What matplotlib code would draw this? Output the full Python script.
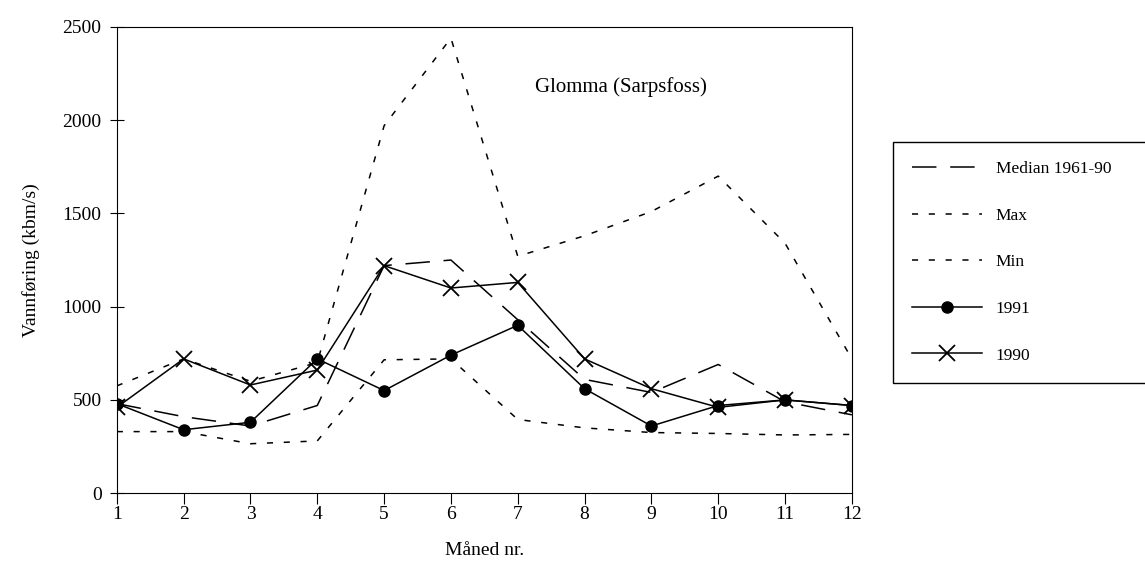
import matplotlib.pyplot as plt

months = list(range(1, 13))

median = [480, 410, 360, 470, 1220, 1250, 930, 610, 540, 690, 490, 420]
max_flow = [575, 720, 600, 700, 1970, 2440, 1270, 1380, 1510, 1700, 1340, 720]
min_flow = [330, 330, 265, 280, 715, 720, 395, 350, 325, 320, 312, 315]
y1991 = [480, 340, 380, 720, 550, 740, 900, 560, 360, 470, 500, 470]
y1990 = [460, 720, 580, 660, 1220, 1100, 1130, 720, 560, 460, 500, 470]

plt.rcParams['font.family'] = ['Liberation Serif', 'DejaVu Serif']

fig = plt.figure(figsize=(11.45, 5.85), dpi=100)
ax = fig.add_axes([0.102, 0.157, 0.642, 0.797])

ax.plot(months, median, color='black', lw=1.1, dashes=(16, 9), label='Median 1961-90')
ax.plot(months, max_flow, color='black', lw=1.1, dashes=(4, 7), label='Max')
ax.plot(months, min_flow, color='black', lw=1.1, dashes=(4, 7), label='Min')
ax.plot(months, y1991, color='black', lw=1.1, marker='o', ms=8, label='1991')
ax.plot(months, y1990, color='black', lw=1.1, marker='x', ms=11, mew=1.3, label='1990')

ax.set_xlim(1, 12)
ax.set_ylim(0, 2500)
ax.set_xticks(months)
ax.set_yticks(range(0, 2501, 500))
ax.tick_params(axis='y', direction='inout', length=10, labelsize=14, pad=6)
ax.tick_params(axis='x', direction='out', length=8, labelsize=14, pad=1)
ax.set_xlabel('Måned nr.', fontsize=14, labelpad=14)
ax.set_ylabel('Vannføring (kbm/s)', fontsize=14, labelpad=16)

ax.text(8.55, 2180, 'Glomma (Sarpsfoss)', fontsize=15, ha='center', va='center')

leg = fig.legend(loc='upper left', bbox_to_anchor=(0.78, 0.333, 0.25, 0.424),
                 mode='expand', borderaxespad=0, fontsize=12.5, labelspacing=1.75,
                 handlelength=4, borderpad=1.1, fancybox=False, edgecolor='black',
                 framealpha=1)
leg.get_frame().set_linewidth(1.0)

plt.savefig('out.png', dpi=100)
